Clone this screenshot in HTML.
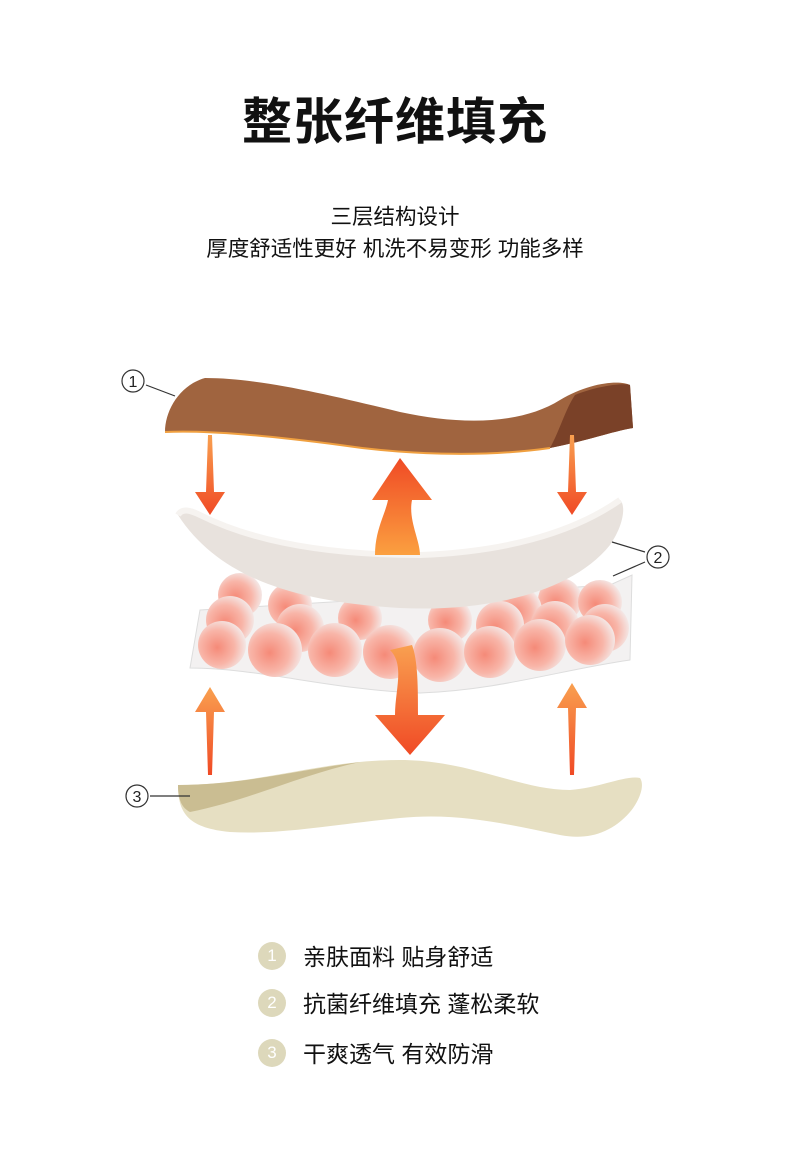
<!DOCTYPE html>
<html><head><meta charset="utf-8"><style>
body{margin:0;width:790px;height:1169px;background:#fff;position:relative;overflow:hidden;font-family:"Liberation Sans","Noto Sans CJK SC",sans-serif;color:#111}
.t{position:absolute;left:0;width:790px;text-align:center}
.leg{position:absolute;left:258px;font-size:23px;height:30px;line-height:30px}
.leg span{display:inline-block;width:28px;height:28px;border-radius:50%;background:#ddd8bb;color:#fff;text-align:center;line-height:28px;font-size:17px;margin-right:17px;vertical-align:top}
</style></head><body>
<div class="t" style="top:82px;font-size:50px;font-weight:bold;letter-spacing:1px">整张纤维填充</div>
<div class="t" style="top:200px;font-size:21.5px">三层结构设计</div>
<div class="t" style="top:232px;font-size:21.5px">厚度舒适性更好 机洗不易变形 功能多样</div>
<svg style="position:absolute;left:0;top:0" width="790" height="1169">
<defs>
<radialGradient id="b" cx="0.4" cy="0.55" r="0.6"><stop offset="0" stop-color="#f58a78"/><stop offset="0.6" stop-color="#f8b5a8"/><stop offset="1" stop-color="#f4e6e4"/></radialGradient>
<linearGradient id="o" x1="0" y1="1" x2="0" y2="0"><stop offset="0" stop-color="#fba040"/><stop offset="1" stop-color="#f04a25"/></linearGradient>
<linearGradient id="o2" x1="0" y1="0" x2="0" y2="1"><stop offset="0" stop-color="#f9a050"/><stop offset="1" stop-color="#f04a25"/></linearGradient>
</defs>
<path d="M165,432 C165,410 180,385 205,378 C260,378 330,395 400,412 C460,425 520,425 560,400 C590,382 620,380 630,385 L633,428 C610,432 590,440 550,448 C480,458 400,454 340,445 C270,436 210,430 165,432Z" fill="#a0643f"/>
<path d="M575,395 C600,385 625,383 630,385 L633,428 C610,432 590,440 550,448 C560,430 565,410 575,395Z" fill="#7a4128"/>
<path d="M165,432 C210,430 270,436 340,445 C400,454 480,458 550,448" stroke="#f0a040" stroke-width="2" fill="none"/>
<path d="M208,435 L212,435 L214,492 L225,492 L210,515 L195,492 L206,492Z" fill="url(#o2)"/>
<path d="M570,435 L574,435 L576,492 L587,492 L572,515 L557,492 L568,492Z" fill="url(#o2)"/>
<path d="M200,610 L610,585 L632,575 L630,660 C560,670 500,690 420,693 C330,690 260,668 190,668Z" fill="#f3f1f1" stroke="#ddd" stroke-width="1"/>
<g fill="url(#b)">
<circle cx="240" cy="595" r="22"/><circle cx="290" cy="605" r="22"/><circle cx="560" cy="600" r="22"/><circle cx="600" cy="602" r="22"/><circle cx="520" cy="610" r="22"/>
<circle cx="230" cy="620" r="24"/><circle cx="300" cy="628" r="24"/><circle cx="360" cy="618" r="22"/><circle cx="450" cy="620" r="22"/><circle cx="500" cy="625" r="24"/><circle cx="555" cy="625" r="24"/><circle cx="605" cy="628" r="24"/>
<circle cx="222" cy="645" r="24"/><circle cx="275" cy="650" r="27"/><circle cx="335" cy="650" r="27"/><circle cx="390" cy="652" r="27"/><circle cx="440" cy="655" r="27"/><circle cx="490" cy="652" r="26"/><circle cx="540" cy="645" r="26"/><circle cx="590" cy="640" r="25"/>
</g>
<path d="M178,515 C182,508 190,510 200,515 C270,550 360,555 420,555 C500,552 570,535 620,500 C626,505 624,525 610,545 C570,595 480,612 400,608 C300,602 220,580 178,515Z" fill="#e8e2dd"/>
<path d="M178,515 C182,508 190,510 200,515 C270,550 360,555 420,555 C500,552 570,535 620,500" stroke="#f6f3f0" stroke-width="6" fill="none"/>
<path d="M375,555 C375,530 385,515 388,500 L372,500 L400,458 L432,500 L412,500 C408,520 420,540 420,555Z" fill="url(#o)"/>
<path d="M390,650 C405,665 395,690 395,715 L375,715 L410,755 L445,715 L418,715 C418,690 418,660 412,645Z" fill="url(#o2)"/>
<path d="M208,775 L212,775 L214,712 L225,712 L210,687 L195,712 L206,712Z" fill="url(#o2)"/>
<path d="M570,775 L574,775 L576,708 L587,708 L572,683 L557,708 L568,708Z" fill="url(#o2)"/>
<path d="M178,785 C260,785 320,760 400,760 C470,760 520,790 570,790 C600,788 625,775 640,778 C645,785 640,800 630,812 C610,835 585,840 560,835 C510,825 460,812 400,818 C330,825 280,835 230,832 C190,828 178,815 178,785Z" fill="#e6dfc2"/>
<path d="M178,785 C240,785 300,770 360,762 C300,775 250,800 190,812 C182,808 178,800 178,785Z" fill="#cabd92"/>
<g fill="none" stroke="#333" stroke-width="1.2">
<circle cx="133" cy="381" r="11"/><line x1="146" y1="385" x2="175" y2="396"/>
<circle cx="658" cy="557" r="11"/><line x1="645" y1="552" x2="612" y2="542"/><line x1="645" y1="562" x2="613" y2="576"/>
<circle cx="137" cy="796" r="11"/><line x1="150" y1="796" x2="190" y2="796"/>
</g>
<g font-size="16" text-anchor="middle" fill="#222" font-family="Liberation Sans,sans-serif">
<text x="133" y="387">1</text><text x="658" y="563">2</text><text x="137" y="802">3</text>
</g>
</svg>
<div class="leg" style="top:942px"><span>1</span>亲肤面料 贴身舒适</div>
<div class="leg" style="top:989px"><span>2</span>抗菌纤维填充 蓬松柔软</div>
<div class="leg" style="top:1039px"><span>3</span>干爽透气 有效防滑</div>
</body></html>
